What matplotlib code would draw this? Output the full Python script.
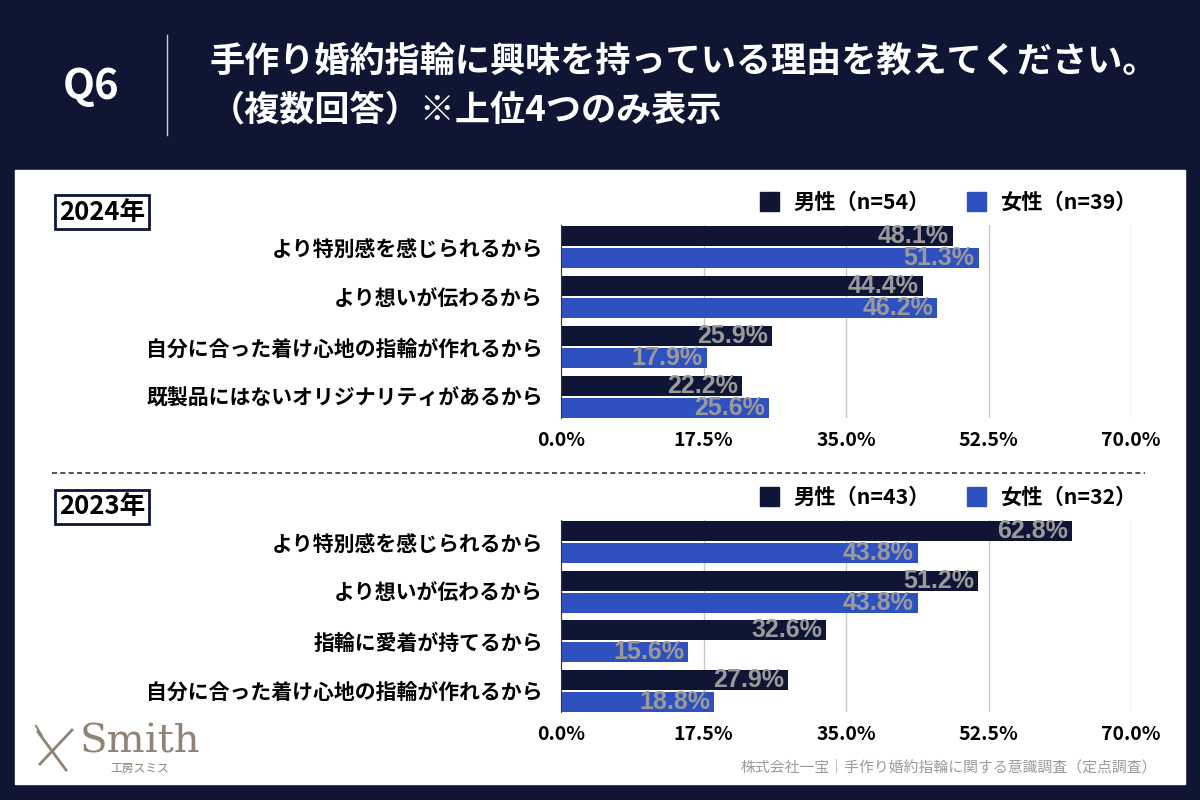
import numpy as np
import matplotlib
matplotlib.use("Agg")
import matplotlib.pyplot as plt
from matplotlib.patches import Rectangle
from matplotlib.lines import Line2D

plt.rcParams['font.family'] = ['Noto Sans CJK JP', 'DejaVu Sans']

# data
title_q = "Q6"
title_lines = ["手作り婚約指輪に興味を持っている理由を教えてください。",
               "（複数回答）※上位4つのみ表示"]
series_names = ["男性", "女性"]

year_2024 = "2024年"
cats_2024 = ["より特別感を感じられるから",
             "より想いが伝わるから",
             "自分に合った着け心地の指輪が作れるから",
             "既製品にはないオリジナリティがあるから"]
male_2024 = [48.1, 44.4, 25.9, 22.2]
female_2024 = [51.3, 46.2, 17.9, 25.6]
n_2024 = [54, 39]

year_2023 = "2023年"
cats_2023 = ["より特別感を感じられるから",
             "より想いが伝わるから",
             "指輪に愛着が持てるから",
             "自分に合った着け心地の指輪が作れるから"]
male_2023 = [62.8, 51.2, 32.6, 27.9]
female_2023 = [43.8, 43.8, 15.6, 18.8]
n_2023 = [43, 32]

xticks = [0, 17.5, 35.0, 52.5, 70.0]
source = "株式会社一宝｜手作り婚約指輪に関する意識調査（定点調査）"

BG = "#0e1634"
NAVY = "#0e1535"
BLUE = "#2f50bf"
LABEL = "#9a9a9a"
W, H = 1200, 800


def fx(px):
    return px / W


def fy(py):
    return 1 - py / H


def draw_panel(fig, rect, year, cats, male, female, ns, legend_y, year_y):
    ax = fig.add_axes(rect, zorder=2)
    y = np.arange(len(cats))
    off, bh = 0.22, 0.40
    b1 = ax.barh(y - off, male, height=bh, color=NAVY, zorder=3)
    b2 = ax.barh(y + off, female, height=bh, color=BLUE, zorder=3)
    for bars, vals in ((b1, male), (b2, female)):
        for bar, v in zip(bars, vals):
            ax.text(v - 0.5, bar.get_y() + bar.get_height() / 2, f"{v:.1f}%",
                    ha='right', va='center', color=LABEL, fontsize=18,
                    fontweight='bold', family=['Liberation Sans', 'DejaVu Sans'],
                    zorder=4)
    ax.set_xlim(0, 70)
    ax.set_ylim(len(cats) - 1 + 0.43, -0.45)
    ax.set_xticks(xticks)
    ax.set_xticklabels([f"{t:.1f}%" for t in xticks], fontsize=14,
                       fontweight='bold')
    ax.set_yticks(y)
    ax.set_yticklabels(cats, fontsize=15, fontweight='bold')
    ax.tick_params(length=0, pad=9)
    ax.tick_params(axis='y', pad=13)
    ax.grid(axis='x', color='#c8c8c8', lw=1, zorder=0)
    for s in ('top', 'right', 'bottom'):
        ax.spines[s].set_visible(False)
    ax.spines['left'].set_color('#333333')
    ax.spines['left'].set_zorder(5)
    ax.patch.set_alpha(0)

    # year box
    fig.text(fx(59), fy(year_y), year, ha='left', va='center', fontsize=18.5,
             fontweight='bold', color='black',
             bbox=dict(boxstyle='square,pad=0.15', fc='white', ec=NAVY, lw=2))

    # legend
    xs = [760, 967]
    for x0, name, n, c in zip(xs, series_names, ns, (NAVY, BLUE)):
        fig.patches.append(Rectangle((fx(x0), fy(legend_y + 9)), fx(19), 19 / H,
                                     transform=fig.transFigure, color=c))
        fig.text(fx(x0 + 33), fy(legend_y), f"{name}（n={n}）", ha='left',
                 va='center', fontsize=15.3, fontweight='bold', color='black')
    return ax


fig = plt.figure(figsize=(12, 8), dpi=100, facecolor=BG)

# white panel
fig.patches.append(Rectangle((fx(15), fy(784)), fx(1170), 614 / H,
                             transform=fig.transFigure, color='white',
                             zorder=-1))

# header
fig.text(fx(91), fy(87), title_q, ha='center', va='center', color='white',
         fontsize=30, fontweight='bold')
fig.add_artist(Line2D([fx(167), fx(167)], [fy(35), fy(135)], color='#d0d0d0',
                      lw=1))
fig.text(fx(210), fy(62), title_lines[0], ha='left', va='center',
         color='white', fontsize=25.3, fontweight='bold')
fig.text(fx(210), fy(110), title_lines[1], ha='left', va='center',
         color='white', fontsize=25.3, fontweight='bold')

draw_panel(fig, [fx(561), fy(418), fx(570), 193 / H], year_2024, cats_2024,
           male_2024, female_2024, n_2024, legend_y=202, year_y=212)
draw_panel(fig, [fx(561), fy(712), fx(570), 192 / H], year_2023, cats_2023,
           male_2023, female_2023, n_2023, legend_y=497, year_y=507)

# separator
fig.add_artist(Line2D([fx(52), fx(1145)], [fy(473), fy(473)], color='#333333',
                      lw=1.2, linestyle=(0, (3, 2))))

# logo
LOGO = "#8f8474"
fig.text(fx(80), fy(742), "Smith", ha='left', va='center', color=LOGO,
         fontsize=29, family=['DejaVu Serif'])
fig.text(fx(110), fy(768), "工房スミス", ha='left', va='center', color=LOGO,
         fontsize=8.5)
fig.add_artist(Line2D([fx(38), fx(66)], [fy(732), fy(770)], color=LOGO, lw=2))
fig.add_artist(Line2D([fx(72), fx(40)], [fy(730), fy(764)], color=LOGO, lw=2))
fig.add_artist(Line2D([fx(36), fx(42)], [fy(726), fy(736)], color=LOGO, lw=1.5))

# source
fig.text(fx(1157), fy(767), source, ha='right', va='center', color='#9a9a9a',
         fontsize=10.7)

fig.savefig("out.png", dpi=100, facecolor=BG)
